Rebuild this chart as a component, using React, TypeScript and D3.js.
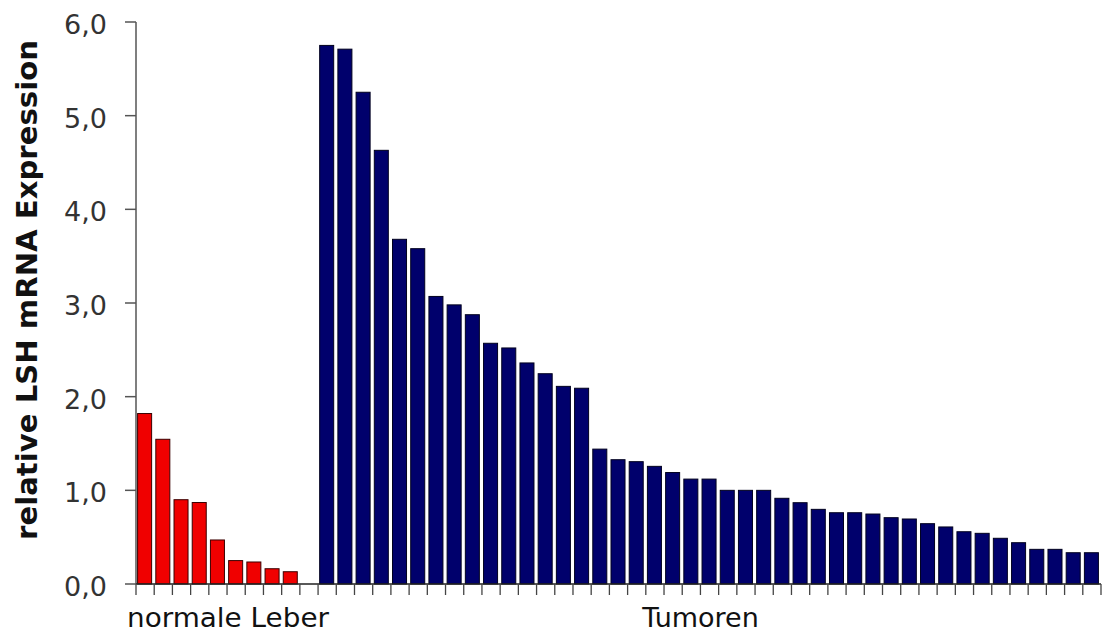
import React from "react";
import * as d3 from "d3";

const normalLiver = [1.82, 1.545, 0.9, 0.87, 0.47, 0.25, 0.235, 0.163, 0.131];
const tumors = [
  5.75, 5.71, 5.25, 4.63, 3.68, 3.58, 3.07, 2.98, 2.875, 2.57, 2.52, 2.36, 2.245, 2.11, 2.09,
  1.44, 1.327, 1.306, 1.256, 1.19, 1.12, 1.12, 1.0, 1.0, 1.0, 0.915, 0.868, 0.797, 0.761,
  0.761, 0.747, 0.708, 0.694, 0.644, 0.609, 0.558, 0.541, 0.488, 0.441, 0.37, 0.37, 0.334, 0.334,
];
const groupLabels = ["normale Leber", "Tumoren"];
const yTicks = [0, 1, 2, 3, 4, 5, 6];
const yTitle = "relative LSH mRNA Expression";

type Cat = { key: string; value: number | null; group: number };
const categories: Cat[] = [
  ...normalLiver.map((v, i) => ({ key: "n" + i, value: v, group: 0 })),
  { key: "gap", value: null, group: -1 },
  ...tumors.map((v, i) => ({ key: "t" + i, value: v, group: 1 })),
];

const W = 1103;
const H = 633;
const left = 136;
const right = 1101;
const top = 22;
const bottom = 584;

export default function App() {
  const x = d3
    .scaleBand<string>()
    .domain(categories.map((c) => c.key))
    .range([left, right])
    .paddingInner(0)
    .paddingOuter(0);
  const y = d3.scaleLinear().domain([0, 6]).range([bottom, top]);
  const bw = x.bandwidth();
  const fmt = (v: number) => d3.format(".1f")(v).replace(".", ",");
  const boundaries = [...categories.map((c) => x(c.key)!), right];

  const redKeys = categories.filter((c) => c.group === 0).map((c) => c.key);
  const blueKeys = categories.filter((c) => c.group === 1).map((c) => c.key);
  const redLeft = x(redKeys[0])!;
  const blueMid = (x(blueKeys[0])! + x(blueKeys[blueKeys.length - 1])! + bw) / 2;

  return (
    <svg
      width={W}
      height={H}
      style={{ position: "absolute", left: 0, top: 0, background: "#fff" }}
    >
      <rect x={0} y={0} width={W} height={H} fill="#fff" />
      {/* bars */}
      {categories.map((c) =>
        c.value === null ? null : (
          <rect
            key={c.key}
            x={x(c.key)! + 1.6}
            y={y(c.value)}
            width={bw * 0.77}
            height={y(0) - y(c.value)}
            fill={c.group === 0 ? "#f00000" : "#00006c"}
            stroke={c.group === 0 ? "#3a0000" : "#00001e"}
            strokeWidth={1}
          />
        )
      )}
      {/* y axis */}
      <line x1={left} x2={left} y1={y(6)} y2={y(0)} stroke="#555" strokeWidth={1.5} />
      {yTicks.map((t) => (
        <g key={t}>
          <line x1={left - 11} x2={left} y1={y(t)} y2={y(t)} stroke="#555" strokeWidth={1.5} />
          <text
            x={107}
            y={y(t) + 12}
            textAnchor="end"
            fontFamily="DejaVu Sans"
            fontSize={27}
            fill="#333"
          >
            {fmt(t)}
          </text>
        </g>
      ))}
      {/* x axis */}
      <line x1={left} x2={right} y1={bottom} y2={bottom} stroke="#222" strokeWidth={1.5} />
      {boundaries.map((bx, i) => (
        <line key={i} x1={bx} x2={bx} y1={bottom} y2={bottom + 11} stroke="#444" strokeWidth={1.3} />
      ))}
      <text
        x={redLeft - 9}
        y={627}
        fontFamily="DejaVu Sans"
        fontSize={27}
        fill="#111"
        textLength={202}
        lengthAdjust="spacingAndGlyphs"
      >
        {groupLabels[0]}
      </text>
      <text
        x={blueMid - 9}
        y={627}
        textAnchor="middle"
        fontFamily="DejaVu Sans"
        fontSize={27}
        fill="#111"
      >
        {groupLabels[1]}
      </text>
      {/* y title */}
      <text
        transform={`translate(37, 290) rotate(-90)`}
        textAnchor="middle"
        fontFamily="DejaVu Sans"
        fontWeight="bold"
        fontSize={28}
        fill="#111"
        textLength={500}
        lengthAdjust="spacingAndGlyphs"
      >
        {yTitle}
      </text>
    </svg>
  );
}
